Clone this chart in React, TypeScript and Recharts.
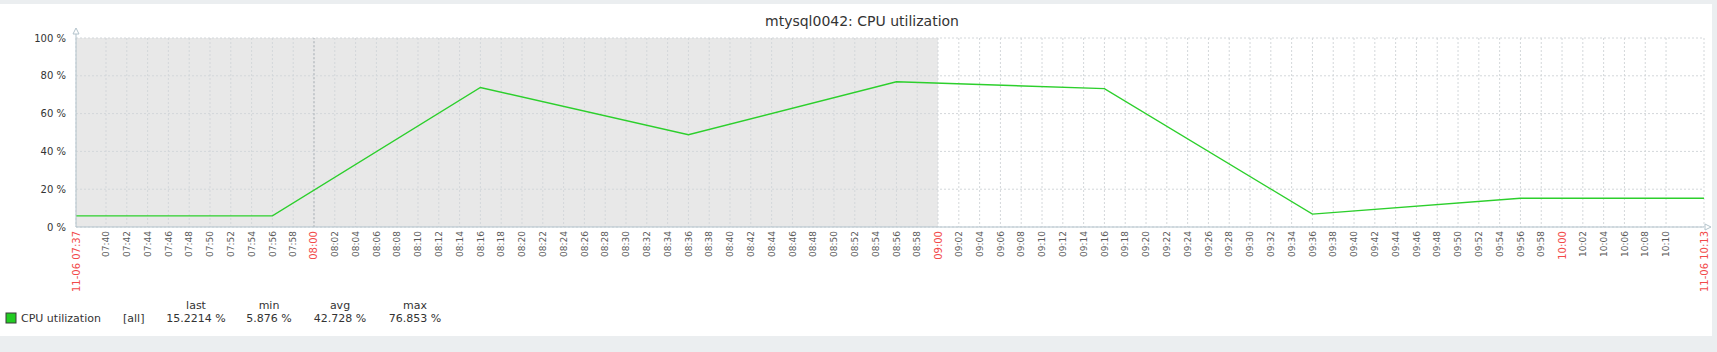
import React from "react";
import { LineChart, Line, XAxis, YAxis, CartesianGrid, ReferenceLine, ReferenceDot } from "recharts";

// sample times (HH:MM:SS) and CPU values in %
const sampleTimes = ["07:37:07", "07:56:00", "08:16:00", "08:36:00", "08:56:00", "09:16:00", "09:36:00", "09:56:00", "10:13:39"];
const cpuValues = [5.876, 5.876, 73.8, 48.8, 76.853, 73.2, 6.8, 15.2214, 15.2214];

// x-axis labels
const startLabel = "11-06 07:37";
const endLabel = "11-06 10:13";
const tickLabels = [
  "07:40", "07:42", "07:44", "07:46", "07:48", "07:50", "07:52", "07:54", "07:56", "07:58",
  "08:00", "08:02", "08:04", "08:06", "08:08", "08:10", "08:12", "08:14", "08:16", "08:18",
  "08:20", "08:22", "08:24", "08:26", "08:28", "08:30", "08:32", "08:34", "08:36", "08:38",
  "08:40", "08:42", "08:44", "08:46", "08:48", "08:50", "08:52", "08:54", "08:56", "08:58",
  "09:00", "09:02", "09:04", "09:06", "09:08", "09:10", "09:12", "09:14", "09:16", "09:18",
  "09:20", "09:22", "09:24", "09:26", "09:28", "09:30", "09:32", "09:34", "09:36", "09:38",
  "09:40", "09:42", "09:44", "09:46", "09:48", "09:50", "09:52", "09:54", "09:56", "09:58",
  "10:00", "10:02", "10:04", "10:06", "10:08", "10:10",
];
const hourLabels = ["08:00", "09:00", "10:00"];
const yTicks = [0, 20, 40, 60, 80, 100];

// legend stats
const legendName = "CPU utilization";
const legendFunc = "[all]";
const statHeaders = ["last", "min", "avg", "max"];
const statValues = ["15.2214 %", "5.876 %", "42.728 %", "76.853 %"];

const title = "mtysql0042: CPU utilization";
const shadeEnd = "09:00"; // grey period ends here

const toMin = (t: string) => {
  const [h, m, s] = t.split(":").map(Number);
  return h * 60 + m + (s || 0) / 60 - (7 * 60 + 37);
};

const xStart = toMin(sampleTimes[0]);
const xEnd = toMin(sampleTimes[sampleTimes.length - 1]);

const data = sampleTimes.map((t, i) => ({ t: toMin(t), cpu: cpuValues[i] }));

const labelMap: Record<string, string> = {};
tickLabels.forEach(l => { labelMap[toMin(l).toFixed(2)] = l; });
labelMap[xStart.toFixed(2)] = startLabel;
labelMap[xEnd.toFixed(2)] = endLabel;
const xTicks = [xStart, ...tickLabels.map(toMin), xEnd];

const FONT = "'DejaVu Sans', Verdana, sans-serif";
const RED = "#f24a4a";
const AXIS = "#b3c3cc";
const GRID = "#d3d7da";
const SHADE = "#e8e8e8";

// grey fill for every grid column before the end of the shaded period
const columnFills = xTicks.map(t => (t < toMin(shadeEnd) ? SHADE : "#fff"));

const XTick = (props: any) => {
  const { x, y, payload } = props;
  const label = labelMap[Number(payload.value).toFixed(2)] ?? "";
  const red = label === startLabel || label === endLabel || hourLabels.includes(label);
  return (
    <text
      x={x}
      y={y}
      dy="0.35em"
      transform={`rotate(-90, ${x}, ${y})`}
      textAnchor="end"
      fontFamily={FONT}
      fontSize={red ? 10 : 9}
      fill={red ? RED : "#5a5a5a"}
    >
      {label}
    </text>
  );
};

const YTick = (props: any) => {
  const { x, y, payload } = props;
  return (
    <text x={x} y={y} dy={3.5} textAnchor="end" fontFamily={FONT} fontSize={10} fill="#333">
      {`${payload.value} %`}
    </text>
  );
};

const UpArrow = (props: any) => {
  const { cx, cy } = props;
  return (
    <g>
      <line x1={cx} y1={cy} x2={cx} y2={cy - 5} stroke={AXIS} />
      <path d={`M${cx - 3},${cy - 4} L${cx + 3},${cy - 4} L${cx},${cy - 10} Z`} fill="#fff" stroke={AXIS} />
    </g>
  );
};

const RightArrow = (props: any) => {
  const { cx, cy } = props;
  return (
    <path d={`M${cx + 1},${cy - 3} L${cx + 1},${cy + 3} L${cx + 7},${cy} Z`} fill="#fff" stroke={AXIS} />
  );
};

export default function App() {
  return (
    <div style={{ position: "absolute", left: 0, top: 0, width: 1717, height: 352, background: "#ebeef0" }}>
      <div style={{ position: "absolute", left: 0, top: 4, width: 1712, height: 332, background: "#fff" }} />
      <div style={{ position: "absolute", left: 0, top: 0 }}>
        <LineChart width={1717} height={352} data={data} margin={{ top: 38, right: 13, bottom: 0, left: 0 }}>
          <CartesianGrid
            stroke={GRID}
            strokeDasharray="2 2"
            horizontalValues={yTicks}
            verticalValues={xTicks}
            verticalFill={columnFills}
            fillOpacity={1}
          />
          {hourLabels.slice(0, 1).map(h => (
            <ReferenceLine key={h} x={toMin(h)} stroke="#b0b5b9" strokeDasharray="2 2" />
          ))}
          <XAxis
            dataKey="t"
            type="number"
            domain={[xStart, xEnd]}
            ticks={xTicks}
            interval={0}
            height={125}
            tickSize={0}
            tickMargin={4}
            tick={<XTick />}
            stroke={AXIS}
            allowDataOverflow
          />
          <YAxis
            type="number"
            domain={[0, 100]}
            ticks={yTicks}
            width={76}
            tickSize={0}
            tickMargin={10}
            tick={<YTick />}
            stroke={AXIS}
          />
          <Line
            type="linear"
            dataKey="cpu"
            stroke="#2ccf2c"
            strokeWidth={1.4}
            dot={false}
            isAnimationActive={false}
          />
          <ReferenceDot x={xStart} y={100} ifOverflow="visible" shape={<UpArrow />} />
          <ReferenceDot x={xEnd} y={0} ifOverflow="visible" shape={<RightArrow />} />
        </LineChart>
      </div>
      <svg style={{ position: "absolute", left: 0, top: 0 }} width={1717} height={352} fontFamily={FONT}>
        <text x={862} y={26} textAnchor="middle" fontSize={14} fill="#333">{title}</text>
        <rect x={6} y={313} width={10} height={10} fill="#22cc22" stroke="#3a3a3a" strokeWidth={1} />
        <text x={21} y={322} fontSize={11} fill="#333">{legendName}</text>
        <text x={123} y={322} fontSize={11} fill="#333">{legendFunc}</text>
        {statHeaders.map((h, i) => (
          <text key={h} x={[196, 269, 340, 415][i]} y={309} textAnchor="middle" fontSize={11} fill="#333">{h}</text>
        ))}
        {statValues.map((v, i) => (
          <text key={i} x={[196, 269, 340, 415][i]} y={322} textAnchor="middle" fontSize={11} fill="#333">{v}</text>
        ))}
      </svg>
    </div>
  );
}
